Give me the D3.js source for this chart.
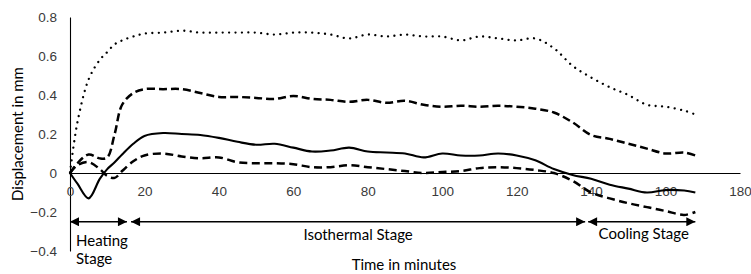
<!DOCTYPE html>
<html>
<head>
<meta charset="utf-8">
<script src="https://cdn.jsdelivr.net/npm/d3@7"></script>
<style>
  body { margin: 0; background: #fff; }
  svg { font-family: Lato, "Liberation Sans", sans-serif; }
</style>
</head>
<body>
<div id="chart"></div>
<script>

// time in minutes
const time = [0, 2, 5, 8, 10, 12, 14, 17, 20, 25, 30, 35, 40, 45, 50, 55, 60, 65, 70, 75, 80,
    85, 90, 95, 100, 105, 110, 115, 120, 125, 130, 135, 140, 145, 150, 155, 160, 165, 168];

const dotted = [0, 0.26, 0.48, 0.58, 0.62, 0.66, 0.68, 0.70, 0.715, 0.72, 0.73, 0.72, 0.72, 0.72, 0.72, 0.71, 0.72,
    0.72, 0.71, 0.69, 0.71, 0.70, 0.71, 0.70, 0.70, 0.68, 0.70, 0.69, 0.68, 0.69, 0.64, 0.55, 0.49,
    0.44, 0.40, 0.35, 0.34, 0.32, 0.30];

const dashedUpper = [0, 0.05, 0.095, 0.075, 0.08, 0.2, 0.35, 0.41, 0.43, 0.43, 0.43, 0.41, 0.39, 0.39, 0.385, 0.38, 0.395,
    0.38, 0.375, 0.365, 0.375, 0.36, 0.37, 0.35, 0.34, 0.345, 0.34, 0.345, 0.34, 0.33, 0.31, 0.26, 0.195,
    0.175, 0.15, 0.125, 0.10, 0.105, 0.09];

const solid = [0, -0.055, -0.13, -0.03, 0.02, 0.055, 0.095, 0.15, 0.19, 0.205, 0.20, 0.195, 0.18, 0.16, 0.145, 0.15, 0.13,
    0.11, 0.115, 0.13, 0.11, 0.105, 0.10, 0.08, 0.10, 0.09, 0.09, 0.10, 0.09, 0.065, 0.02, -0.01, -0.03,
    -0.06, -0.08, -0.10, -0.087, -0.09, -0.10];

const dashedLower = [0, 0.04, 0.056, 0.02, -0.015, -0.025, 0.01, 0.06, 0.09, 0.10, 0.085, 0.075, 0.08, 0.055, 0.05, 0.05, 0.045,
    0.03, 0.03, 0.04, 0.03, 0.02, 0.01, 0.0, 0.005, 0.01, 0.025, 0.03, 0.025, 0.015, 0.0, -0.04, -0.10,
    -0.13, -0.155, -0.175, -0.195, -0.215, -0.20];

const xTicks = [0, 20, 40, 60, 80, 100, 120, 140, 160, 180];
const yTicks = [-0.4, -0.2, 0, 0.2, 0.4, 0.6, 0.8];

// stage arrows (minutes)
const stageNames = ["Heating Stage", "Isothermal Stage", "Cooling Stage"];
const stageStart = [0, 16.4, 139.2];
const stageEnd = [15.3, 138.4, 168];
const stageLevel = -0.25;

const width = 751, height = 274;
const margin = { top: 17, right: 11, bottom: 23, left: 70 };

const x = d3.scaleLinear().domain([0, 180]).range([margin.left, width - margin.right]);
const y = d3.scaleLinear().domain([-0.4, 0.8]).range([height - margin.bottom, margin.top]);

const svg = d3.select("#chart").append("svg")
    .attr("width", width)
    .attr("height", height);

const defs = svg.append("defs");
["arrowEnd", "arrowStart"].forEach(function(id, i) {
    defs.append("marker")
        .attr("id", id)
        .attr("markerUnits", "userSpaceOnUse")
        .attr("viewBox", "0 0 10 10")
        .attr("refX", 10).attr("refY", 5)
        .attr("markerWidth", 10).attr("markerHeight", 9)
        .attr("orient", i === 0 ? "auto" : "auto-start-reverse")
        .append("path")
        .attr("d", "M0,0 L10,5 L0,10 Z")
        .attr("fill", "#000");
});

// axes
const yAxis = svg.append("g")
    .attr("transform", `translate(${x(0)},0)`)
    .call(d3.axisLeft(y).tickValues(yTicks).tickSize(0).tickPadding(13)
        .tickFormat(d => d === 0 ? "0" : d3.format(".1f")(d)));

const xAxis = svg.append("g")
    .attr("transform", `translate(0,${y(0)})`)
    .call(d3.axisBottom(x).tickValues(xTicks).tickSize(0).tickPadding(13));

[xAxis, yAxis].forEach(function(g) {
    g.select(".domain").attr("stroke", "#000").attr("stroke-width", 1.1);
    g.selectAll("text").attr("fill", "#3a3a3a").style("font-size", "13.5px");
});

// lines
const line = d3.line()
    .x((d, i) => x(time[i]))
    .y(d => y(d))
    .curve(d3.curveCatmullRom.alpha(0.5));

const series = [
    { values: dotted, dash: "0.01 6.4", width: 2.3, cap: "round" },
    { values: dashedUpper, dash: "8 4", width: 2.5, cap: "butt" },
    { values: solid, dash: null, width: 2.1, cap: "butt" },
    { values: dashedLower, dash: "8 4.5", width: 2.5, cap: "butt" }
];

svg.append("g").selectAll("path")
    .data(series)
    .enter().append("path")
    .attr("d", d => line(d.values))
    .attr("fill", "none")
    .attr("stroke", "#000")
    .attr("stroke-width", d => d.width)
    .attr("stroke-linecap", d => d.cap)
    .attr("stroke-dasharray", d => d.dash);

// stage arrows
const stages = svg.append("g");
stageNames.forEach(function(name, i) {
    stages.append("line")
        .attr("x1", x(stageStart[i])).attr("x2", x(stageEnd[i]))
        .attr("y1", y(stageLevel)).attr("y2", y(stageLevel))
        .attr("stroke", "#000")
        .attr("stroke-width", 1.3)
        .attr("marker-start", "url(#arrowStart)")
        .attr("marker-end", "url(#arrowEnd)");
});

const labelStyle = g => g.attr("fill", "#000").style("font-size", "15px");

const heating = stages.append("text")
    .attr("x", x(stageStart[0]) + 6)
    .attr("y", y(stageLevel) + 24)
    .call(labelStyle);
heating.append("tspan").text("Heating");
heating.append("tspan").attr("x", x(stageStart[0]) + 6).attr("dy", 18).text("Stage");

stages.append("text")
    .attr("x", (x(stageStart[1]) + x(stageEnd[1])) / 2)
    .attr("y", y(stageLevel) + 18)
    .attr("text-anchor", "middle")
    .call(labelStyle)
    .text(stageNames[1]);

stages.append("text")
    .attr("x", (x(stageStart[2]) + x(stageEnd[2])) / 2 + 2)
    .attr("y", y(stageLevel) + 17)
    .attr("text-anchor", "middle")
    .call(labelStyle)
    .text(stageNames[2]);

// axis titles
svg.append("text")
    .attr("x", 404)
    .attr("y", 270)
    .attr("text-anchor", "middle")
    .call(labelStyle)
    .text("Time in minutes");

svg.append("text")
    .attr("transform", `translate(23,${y(0.2)}) rotate(-90)`)
    .attr("text-anchor", "middle")
    .call(labelStyle)
    .text("Displacement in mm");

</script>
</body>
</html>
